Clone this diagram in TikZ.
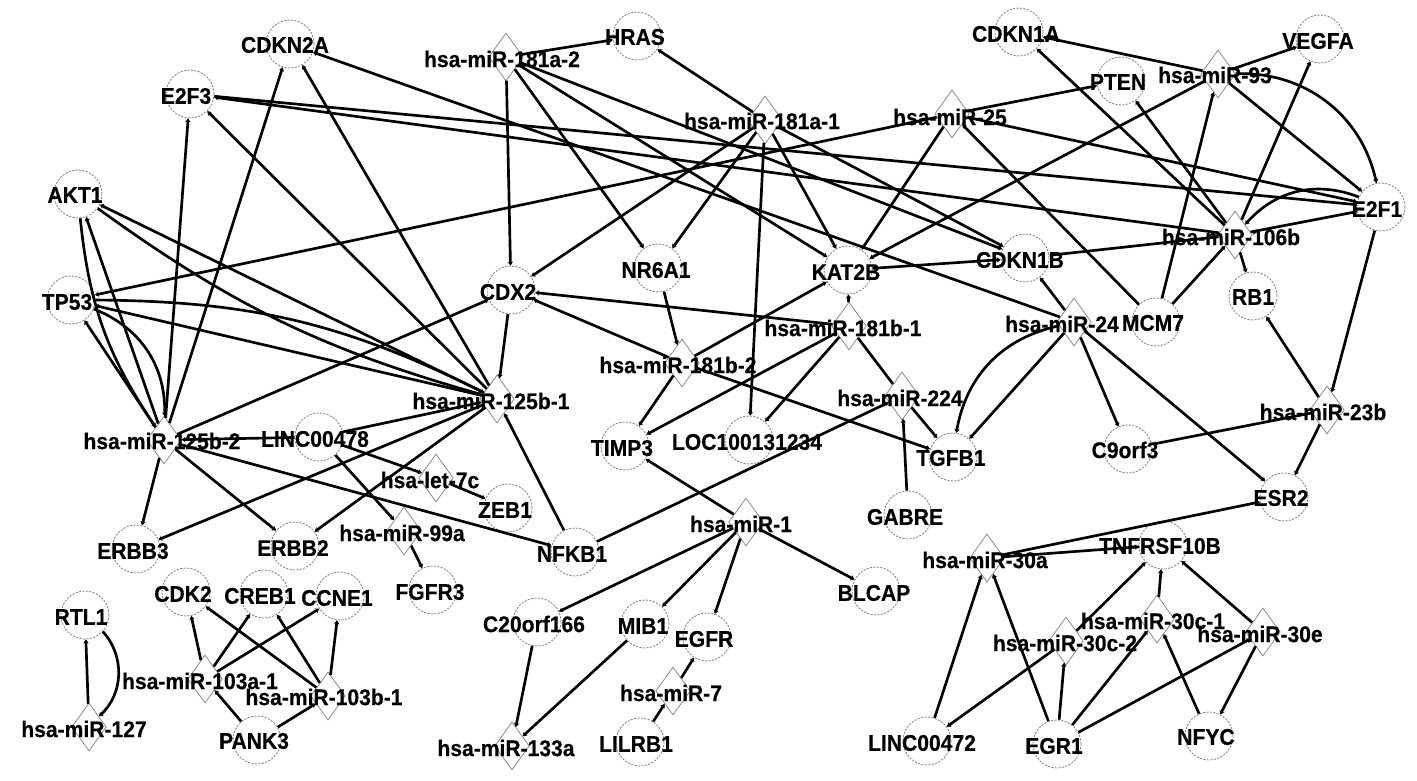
\documentclass[tikz,border=0pt]{standalone}
\usepackage{fontspec}
\setmainfont{Liberation Sans}
\newfontfamily\tagfont{Liberation Sans}[BoldFeatures={FakeStretch=0.93,FakeBold=0.4}]
\usetikzlibrary{shapes.geometric,arrows.meta}
\newcommand{\genenode}[3]{\node[gene] (#1) at (#2,#3) {};}
\newcommand{\mirnode}[3]{\node[mir] (#1) at (#2,#3) {};}
\newcommand{\tagnode}[4]{\node[tag] (t-#1) at (#2,#3) {#4};}
\begin{document}
\begin{tikzpicture}[x=0.75pt,y=-0.75pt,
  gene/.style={circle,draw=black!50,line width=0.6pt,dash pattern=on 1.6pt off 1pt,fill=white,minimum size=36pt,inner sep=0pt},
  mir/.style={diamond,draw=black!45,line width=0.6pt,fill=white,minimum width=26pt,minimum height=36pt,inner sep=0pt},
  ed/.style={line width=2pt,black},
  tip/.style={-{Stealth[length=3pt,width=4pt]}},
  tag/.style={font=\tagfont\bfseries\fontsize{17}{19}\selectfont,inner sep=0pt,text=black}]
\fill[white] (0,0) rectangle (1417,781);
\useasboundingbox (0,0) rectangle (1417,781);
% genes
\genenode{CDKN2A}{290}{44}
\genenode{E2F3}{190}{94}
\genenode{AKT1}{78}{194}
\genenode{TP53}{71}{300}
\genenode{CDX2}{511}{290}
\genenode{NR6A1}{658}{268}
\genenode{KAT2B}{848}{270}
\genenode{CDKN1B}{1025}{258}
\genenode{HRAS}{637}{36}
\genenode{CDKN1A}{1019}{32}
\genenode{PTEN}{1121}{81}
\genenode{VEGFA}{1320}{39}
\genenode{E2F1}{1381}{207}
\genenode{RB1}{1253}{296}
\genenode{MCM7}{1156}{322}
\genenode{C9orf3}{1128}{449}
\genenode{ESR2}{1284}{497}
\genenode{TGFB1}{953}{457}
\genenode{GABRE}{908}{515}
\genenode{LOC}{749}{440}
\genenode{TIMP3}{625}{446}
\genenode{LINC00478}{319}{437}
\genenode{ZEB1}{508}{508}
\genenode{ERBB3}{136}{549}
\genenode{ERBB2}{295}{546}
\genenode{NFKB1}{575}{552}
\genenode{FGFR3}{433}{590}
\genenode{CDK2}{186}{592}
\genenode{CREB1}{264}{594}
\genenode{CCNE1}{340}{596}
\genenode{RTL1}{85}{615}
\genenode{PANK3}{257}{740}
\genenode{C20orf166}{537}{622}
\genenode{MIB1}{645}{624}
\genenode{EGFR}{707}{637}
\genenode{BLCAP}{876}{591}
\genenode{LILRB1}{640}{742}
\genenode{LINC00472}{927}{741}
\genenode{EGR1}{1057}{744}
\genenode{NFYC}{1209}{736}
\genenode{TNFRSF10B}{1163}{545}
% miRNAs
\mirnode{m181a2}{506}{57}
\mirnode{m181a1}{765}{120}
\mirnode{m25}{952}{114}
\mirnode{m93}{1218}{74}
\mirnode{m106b}{1235}{235}
\mirnode{m24}{1074}{322}
\mirnode{m23b}{1327}{410}
\mirnode{m181b1}{849}{326}
\mirnode{m181b2}{682}{363}
\mirnode{m224}{902}{396}
\mirnode{m125b1}{497}{399}
\mirnode{m125b2}{164}{440}
\mirnode{let7c}{436}{478}
\mirnode{m99a}{404}{531}
\mirnode{m1}{746}{522}
\mirnode{m103a1}{205}{679}
\mirnode{m103b1}{328}{696}
\mirnode{m127}{89}{727}
\mirnode{m133a}{512}{746}
\mirnode{m7}{673}{691}
\mirnode{m30a}{987}{558}
\mirnode{m30c1}{1157}{619}
\mirnode{m30c2}{1066}{641}
\mirnode{m30e}{1263}{632}
% edges: miR-181a-2 / miR-181a-1
\draw[ed,tip] (m181a2) -- (HRAS);
\draw[ed,tip] (m181a2) -- (CDX2);
\draw[ed,tip] (m181a2) -- (NR6A1);
\draw[ed,tip] (m181a2) -- (KAT2B);
\draw[ed,tip] (m181a2) -- (CDKN1B);
\draw[ed,tip] (m181a1) -- (HRAS);
\draw[ed,tip] (m181a1) -- (CDX2);
\draw[ed,tip] (m181a1) -- (NR6A1);
\draw[ed,tip] (m181a1) -- (LOC);
\draw[ed,tip] (m181a1) -- (KAT2B);
\draw[ed,tip] (m181a1) -- (CDKN1B);
% miR-25
\draw[ed,tip] (m25) -- (TP53);
\draw[ed,tip] (m25) -- (PTEN);
\draw[ed,tip] (m25) -- (KAT2B);
\draw[ed,tip] (m25) -- (E2F1);
\draw[ed,tip] (MCM7) -- (m25);
% miR-93
\draw[ed,tip] (m93) -- (CDKN1A);
\draw[ed,tip] (m93) -- (VEGFA);
\draw[ed,tip] (m93) -- (KAT2B);
\draw[ed,tip] (m93) -- (E2F1);
\draw[ed,tip] (m93) to[bend left=40] (E2F1);
\draw[ed,tip] (MCM7) -- (m93);
% miR-106b
\draw[ed,tip] (m106b) -- (CDKN1A);
\draw[ed,tip] (m106b) -- (PTEN);
\draw[ed,tip] (m106b) -- (VEGFA);
\draw[ed,tip] (m106b) -- (E2F1);
\draw[ed,tip] (E2F1) to[bend right=35] (m106b);
\draw[ed,tip] (m106b) -- (CDKN1B);
\draw[ed,tip] (KAT2B) -- (CDKN1B);
\draw[ed,tip] (MCM7) -- (m106b);
\draw[ed,tip] (m106b) -- (RB1);
\draw[ed,tip] (m106b) -- (E2F3);
\draw[ed] (E2F3) -- (E2F1);
% CDKN2A, E2F3, AKT1, TP53
\draw[ed,tip] (m24) -- (CDKN2A);
\draw[ed,tip] (m125b2) -- (CDKN2A);
\draw[ed,tip] (m125b1) -- (CDKN2A);
\draw[ed,tip] (m125b2) -- (E2F3);
\draw[ed,tip] (m125b1) -- (E2F3);
\draw[ed,tip] (m125b2) -- (AKT1);
\draw[ed,tip] (AKT1) to[bend right=14] (m125b2);
\draw[ed,tip] (m125b1) -- (AKT1);
\draw[ed,tip] (AKT1) to[bend right=10] (m125b1);
\draw[ed,tip] (m125b2) -- (TP53);
\draw[ed,tip] (TP53) to[bend left=35] (m125b2);
\draw[ed,tip] (m125b1) -- (TP53);
\draw[ed,tip] (TP53) to[bend left=13] (m125b1);
% CDX2 and the miR-181b cluster
\draw[ed,tip] (CDX2) -- (m125b1);
\draw[ed,tip] (m125b2) -- (CDX2);
\draw[ed,tip] (m181b1) -- (CDX2);
\draw[ed,tip] (m181b2) -- (CDX2);
\draw[ed,tip] (NR6A1) -- (m181b2);
\draw[ed,tip] (m181b2) -- (KAT2B);
\draw[ed,tip] (m181b1) -- (KAT2B);
\draw[ed,tip] (m181b2) -- (TIMP3);
\draw[ed,tip] (m181b2) -- (TGFB1);
\draw[ed,tip] (m181b1) -- (TIMP3);
\draw[ed,tip] (m181b1) -- (LOC);
\draw[ed] (m181b1) -- (m224);
% miR-224, miR-24, miR-23b
\draw[ed,tip] (m224) -- (TGFB1);
\draw[ed,tip] (GABRE) -- (m224);
\draw[ed,tip] (NFKB1) -- (m224);
\draw[ed,tip] (m24) -- (CDKN1B);
\draw[ed,tip] (m24) -- (TGFB1);
\draw[ed,tip] (m24) to[bend right=34] (TGFB1);
\draw[ed,tip] (m24) -- (C9orf3);
\draw[ed,tip] (m24) -- (ESR2);
\draw[ed,tip] (m23b) -- (RB1);
\draw[ed,tip] (E2F1) -- (m23b);
\draw[ed,tip] (m23b) -- (C9orf3);
\draw[ed,tip] (m23b) -- (ESR2);
% miR-30 family
\draw[ed,tip] (m30a) -- (ESR2);
\draw[ed,tip] (m30a) -- (TNFRSF10B);
\draw[ed,tip] (LINC00472) -- (m30a);
\draw[ed,tip] (EGR1) -- (m30a);
\draw[ed,tip] (m30c2) -- (TNFRSF10B);
\draw[ed,tip] (m30c1) -- (TNFRSF10B);
\draw[ed,tip] (m30e) -- (TNFRSF10B);
\draw[ed,tip] (m30c2) -- (LINC00472);
\draw[ed,tip] (EGR1) -- (m30c2);
\draw[ed,tip] (EGR1) -- (m30c1);
\draw[ed,tip] (NFYC) -- (m30c1);
\draw[ed,tip] (EGR1) -- (m30e);
\draw[ed,tip] (m30e) -- (NFYC);
% miR-125b and LINC00478
\draw[ed,tip] (LINC00478) -- (m125b2);
\draw[ed,tip] (m125b2) -- (ERBB3);
\draw[ed,tip] (m125b2) -- (ERBB2);
\draw[ed,tip] (m125b2) -- (NFKB1);
\draw[ed,tip] (LINC00478) -- (m125b1);
\draw[ed,tip] (m125b1) -- (ERBB3);
\draw[ed,tip] (m125b1) -- (ERBB2);
\draw[ed,tip] (NFKB1) -- (m125b1);
\draw[ed,tip] (LINC00478) -- (let7c);
\draw[ed,tip] (let7c) -- (ZEB1);
\draw[ed,tip] (LINC00478) -- (m99a);
\draw[ed,tip] (m99a) -- (FGFR3);
% miR-1, miR-133a, miR-7
\draw[ed,tip] (m1) -- (TIMP3);
\draw[ed,tip] (m1) -- (C20orf166);
\draw[ed,tip] (m1) -- (MIB1);
\draw[ed,tip] (m1) -- (EGFR);
\draw[ed,tip] (m1) -- (BLCAP);
\draw[ed,tip] (C20orf166) -- (m133a);
\draw[ed,tip] (MIB1) -- (m133a);
\draw[ed,tip] (m7) -- (EGFR);
\draw[ed,tip] (LILRB1) -- (m7);
% miR-103, miR-127
\draw[ed,tip] (m103a1) -- (CDK2);
\draw[ed,tip] (m103a1) -- (CREB1);
\draw[ed,tip] (m103a1) -- (CCNE1);
\draw[ed,tip] (PANK3) -- (m103a1);
\draw[ed,tip] (m103b1) -- (CDK2);
\draw[ed,tip] (m103b1) -- (CREB1);
\draw[ed,tip] (m103b1) -- (CCNE1);
\draw[ed,tip] (PANK3) -- (m103b1);
\draw[ed,tip] (m127) -- (RTL1);
\draw[ed,tip] (RTL1) to[bend left=45] (m127);
% labels
\tagnode{CDKN2A}{285}{45}{CDKN2A}
\tagnode{E2F3}{186}{96}{E2F3}
\tagnode{AKT1}{75}{195}{AKT1}
\tagnode{TP53}{67}{302}{TP53}
\tagnode{CDX2}{508}{292}{CDX2}
\tagnode{NR6A1}{656}{270}{NR6A1}
\tagnode{KAT2B}{846}{272}{KAT2B}
\tagnode{CDKN1B}{1020}{260}{CDKN1B}
\tagnode{HRAS}{635}{37}{HRAS}
\tagnode{CDKN1A}{1016}{34}{CDKN1A}
\tagnode{PTEN}{1118}{82}{PTEN}
\tagnode{VEGFA}{1318}{41}{VEGFA}
\tagnode{E2F1}{1377}{209}{E2F1}
\tagnode{RB1}{1253}{297}{RB1}
\tagnode{MCM7}{1153}{323}{MCM7}
\tagnode{C9orf3}{1125}{450}{C9orf3}
\tagnode{ESR2}{1281}{498}{ESR2}
\tagnode{TGFB1}{951}{458}{TGFB1}
\tagnode{GABRE}{905}{517}{GABRE}
\tagnode{LOC}{747}{442}{LOC100131234}
\tagnode{TIMP3}{622}{448}{TIMP3}
\tagnode{LINC00478}{315}{439}{LINC00478}
\tagnode{ZEB1}{505}{510}{ZEB1}
\tagnode{ERBB3}{133}{551}{ERBB3}
\tagnode{ERBB2}{293}{548}{ERBB2}
\tagnode{NFKB1}{572}{554}{NFKB1}
\tagnode{FGFR3}{430}{592}{FGFR3}
\tagnode{CDK2}{183}{594}{CDK2}
\tagnode{CREB1}{260}{596}{CREB1}
\tagnode{CCNE1}{337}{598}{CCNE1}
\tagnode{RTL1}{81}{617}{RTL1}
\tagnode{PANK3}{254}{741}{PANK3}
\tagnode{C20orf166}{534}{624}{C20orf166}
\tagnode{MIB1}{643}{626}{MIB1}
\tagnode{EGFR}{704}{639}{EGFR}
\tagnode{BLCAP}{874}{593}{BLCAP}
\tagnode{LILRB1}{636}{744}{LILRB1}
\tagnode{LINC00472}{922}{743}{LINC00472}
\tagnode{EGR1}{1054}{746}{EGR1}
\tagnode{NFYC}{1206}{737}{NFYC}
\tagnode{TNFRSF10B}{1160}{546}{TNFRSF10B}
\tagnode{m181a2}{502}{59}{hsa-miR-181a-2}
\tagnode{m181a1}{762}{121}{hsa-miR-181a-1}
\tagnode{m25}{950}{117}{hsa-miR-25}
\tagnode{m93}{1215}{75}{hsa-miR-93}
\tagnode{m106b}{1231}{237}{hsa-miR-106b}
\tagnode{m24}{1062}{324}{hsa-miR-24}
\tagnode{m23b}{1323}{412}{hsa-miR-23b}
\tagnode{m181b1}{843}{328}{hsa-miR-181b-1}
\tagnode{m181b2}{678}{365}{hsa-miR-181b-2}
\tagnode{m224}{900}{398}{hsa-miR-224}
\tagnode{m125b1}{491}{401}{hsa-miR-125b-1}
\tagnode{m125b2}{162}{441}{hsa-miR-125b-2}
\tagnode{let7c}{430}{480}{hsa-let-7c}
\tagnode{m99a}{402}{533}{hsa-miR-99a}
\tagnode{m1}{741}{524}{hsa-miR-1}
\tagnode{m103a1}{200}{681}{hsa-miR-103a-1}
\tagnode{m103b1}{324}{697}{hsa-miR-103b-1}
\tagnode{m127}{84}{729}{hsa-miR-127}
\tagnode{m133a}{506}{748}{hsa-miR-133a}
\tagnode{m7}{671}{693}{hsa-miR-7}
\tagnode{m30a}{985}{560}{hsa-miR-30a}
\tagnode{m30c1}{1153}{621}{hsa-miR-30c-1}
\tagnode{m30c2}{1065}{643}{hsa-miR-30c-2}
\tagnode{m30e}{1260}{634}{hsa-miR-30e}
\end{tikzpicture}
\end{document}
